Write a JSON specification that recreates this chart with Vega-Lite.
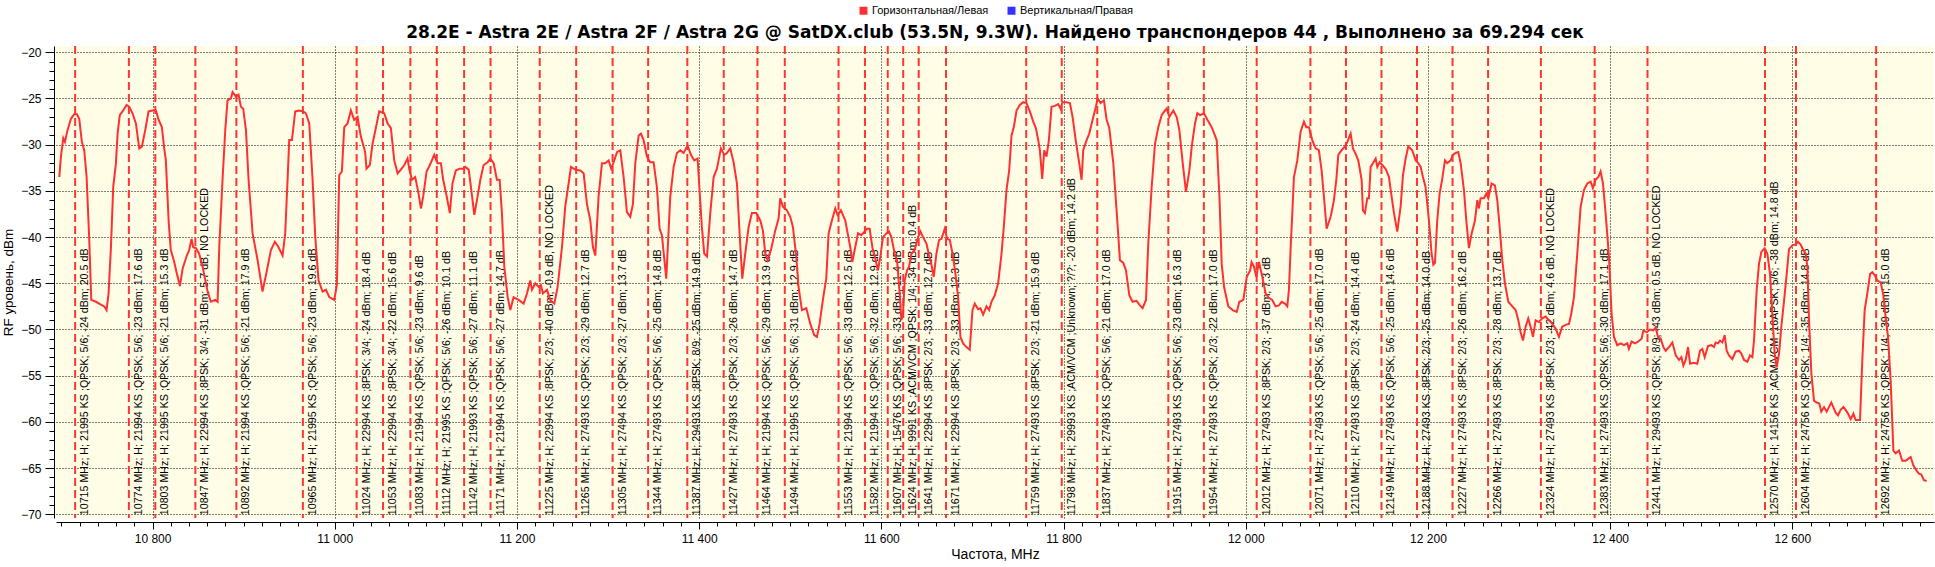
{
  "$schema": "https://vega.github.io/schema/vega-lite/v6.json",
  "width": 1878,
  "height": 472,
  "autosize": {"type": "none"},
  "padding": {"left": 56, "top": 46, "right": 1, "bottom": 49},
  "background": "white",
  "title": {
    "text": "28.2E - Astra 2E / Astra 2F / Astra 2G @ SatDX.club (53.5N, 9.3W). Найдено транспондеров 44 , Выполнено за 69.294 сек",
    "anchor": "middle",
    "frame": "group",
    "font": "DejaVu Sans",
    "fontSize": 17,
    "fontWeight": "bold",
    "color": "black",
    "baseline": "alphabetic",
    "offset": 7,
    "dy": 57
  },
  "config": {
    "view": {"fill": "#fffde6", "stroke": null},
    "font": "Liberation Sans"
  },
  "datasets": {
    "tp": [
      {"f": 10715, "label": "10715 MHz; H; 21995 KS ;QPSK; 5/6; -24 dBm; 20.5 dB"},
      {"f": 10774, "label": "10774 MHz; H; 21994 KS ;QPSK; 5/6; -23 dBm; 17.6 dB"},
      {"f": 10803, "label": "10803 MHz; H; 21995 KS ;QPSK; 5/6; -21 dBm; 15.3 dB"},
      {"f": 10847, "label": "10847 MHz; H; 22994 KS ;8PSK; 3/4; -31 dBm; 5.7 dB, NO LOCKED"},
      {"f": 10892, "label": "10892 MHz; H; 21994 KS ;QPSK; 5/6; -21 dBm; 17.9 dB"},
      {"f": 10965, "label": "10965 MHz; H; 21995 KS ;QPSK; 5/6; -23 dBm; 19.6 dB"},
      {"f": 11024, "label": "11024 MHz; H; 22994 KS ;8PSK; 3/4; -24 dBm; 18.4 dB"},
      {"f": 11053, "label": "11053 MHz; H; 22994 KS ;8PSK; 3/4; -22 dBm; 15.6 dB"},
      {"f": 11083, "label": "11083 MHz; H; 21994 KS ;QPSK; 5/6; -23 dBm; 9.6 dB"},
      {"f": 11112, "label": "11112 MHz; H; 21995 KS ;QPSK; 5/6; -26 dBm; 10.1 dB"},
      {"f": 11142, "label": "11142 MHz; H; 21993 KS ;QPSK; 5/6; -27 dBm; 11.1 dB"},
      {"f": 11171, "label": "11171 MHz; H; 21994 KS ;QPSK; 5/6; -27 dBm; 14.7 dB"},
      {"f": 11225, "label": "11225 MHz; H; 22994 KS ;8PSK; 2/3; -40 dBm; -0.9 dB, NO LOCKED"},
      {"f": 11265, "label": "11265 MHz; H; 27493 KS ;QPSK; 2/3; -29 dBm; 12.7 dB"},
      {"f": 11305, "label": "11305 MHz; H; 27494 KS ;QPSK; 2/3; -27 dBm; 13.7 dB"},
      {"f": 11344, "label": "11344 MHz; H; 27493 KS ;QPSK; 5/6; -25 dBm; 14.8 dB"},
      {"f": 11387, "label": "11387 MHz; H; 29493 KS ;8PSK; 8/9; -25 dBm; 14.9 dB"},
      {"f": 11427, "label": "11427 MHz; H; 27493 KS ;QPSK; 2/3; -26 dBm; 14.7 dB"},
      {"f": 11464, "label": "11464 MHz; H; 21994 KS ;QPSK; 5/6; -29 dBm; 13.9 dB"},
      {"f": 11494, "label": "11494 MHz; H; 21995 KS ;QPSK; 5/6; -31 dBm; 12.9 dB"},
      {"f": 11553, "label": "11553 MHz; H; 21994 KS ;QPSK; 5/6; -33 dBm; 12.5 dB"},
      {"f": 11582, "label": "11582 MHz; H; 21994 KS ;QPSK; 5/6; -32 dBm; 12.9 dB"},
      {"f": 11607, "label": "11607 MHz; H; 15476 KS ;QPSK; 5/6; -33 dBm; 11.4 dB"},
      {"f": 11624, "label": "11624 MHz; H; 9991 KS ;ACM/VCM ;QPSK; 1/4; -34 dBm; 0.4 dB"},
      {"f": 11641, "label": "11641 MHz; H; 22994 KS ;8PSK; 2/3; -33 dBm; 12.7 dB"},
      {"f": 11671, "label": "11671 MHz; H; 22994 KS ;8PSK; 2/3; -33 dBm; 12.3 dB"},
      {"f": 11759, "label": "11759 MHz; H; 27493 KS ;8PSK; 2/3; -21 dBm; 15.9 dB"},
      {"f": 11798, "label": "11798 MHz; H; 29993 KS ;ACM/VCM ;Unknown; ?/?; -20 dBm; 14.2 dB"},
      {"f": 11837, "label": "11837 MHz; H; 27493 KS ;QPSK; 5/6; -21 dBm; 17.0 dB"},
      {"f": 11915, "label": "11915 MHz; H; 27493 KS ;QPSK; 5/6; -23 dBm; 16.3 dB"},
      {"f": 11954, "label": "11954 MHz; H; 27493 KS ;QPSK; 2/3; -22 dBm; 17.0 dB"},
      {"f": 12012, "label": "12012 MHz; H; 27493 KS ;8PSK; 2/3; -37 dBm; 7.3 dB"},
      {"f": 12071, "label": "12071 MHz; H; 27493 KS ;QPSK; 5/6; -25 dBm; 17.0 dB"},
      {"f": 12110, "label": "12110 MHz; H; 27493 KS ;8PSK; 2/3; -24 dBm; 14.4 dB"},
      {"f": 12149, "label": "12149 MHz; H; 27493 KS ;QPSK; 5/6; -25 dBm; 14.6 dB"},
      {"f": 12188, "label": "12188 MHz; H; 27493 KS ;8PSK; 2/3; -25 dBm; 14.0 dB"},
      {"f": 12227, "label": "12227 MHz; H; 27493 KS ;8PSK; 2/3; -26 dBm; 16.2 dB"},
      {"f": 12266, "label": "12266 MHz; H; 27493 KS ;8PSK; 2/3; -28 dBm; 13.7 dB"},
      {"f": 12324, "label": "12324 MHz; H; 27493 KS ;8PSK; 2/3; -42 dBm; 4.6 dB, NO LOCKED"},
      {"f": 12383, "label": "12383 MHz; H; 27493 KS ;QPSK; 5/6; -30 dBm; 17.1 dB"},
      {"f": 12441, "label": "12441 MHz; H; 29493 KS ;QPSK; 8/9; -43 dBm; 0.5 dB, NO LOCKED"},
      {"f": 12570, "label": "12570 MHz; H; 14156 KS ;ACM/VCM ;16APSK; 5/6; -38 dBm; 14.8 dB"},
      {"f": 12604, "label": "12604 MHz; H; 24756 KS ;QPSK; 1/4; -35 dBm; 14.8 dB"},
      {"f": 12692, "label": "12692 MHz; H; 24756 KS ;QPSK; 1/4; -39 dBm; 15.0 dB"}
    ],
    "spec": [
      {"f": 10697.6, "db": -33.5}, {"f": 10699.4, "db": -31.3}, {"f": 10702, "db": -29.3}, {"f": 10703.8, "db": -29.7},
      {"f": 10706.7, "db": -28.4}, {"f": 10710.4, "db": -27.2}, {"f": 10714, "db": -26.7}, {"f": 10717, "db": -26.7},
      {"f": 10719.5, "db": -27.2}, {"f": 10722.4, "db": -29.7}, {"f": 10725, "db": -30.6}, {"f": 10727.6, "db": -33.5},
      {"f": 10730.5, "db": -40.3}, {"f": 10732.7, "db": -46.8}, {"f": 10737.8, "db": -47.0}, {"f": 10743.3, "db": -47.3},
      {"f": 10747, "db": -47.5}, {"f": 10749.5, "db": -47.9}, {"f": 10751.7, "db": -46.1}, {"f": 10754.3, "db": -41.1},
      {"f": 10756.8, "db": -34.6}, {"f": 10759.8, "db": -32.0}, {"f": 10761.6, "db": -28.8}, {"f": 10764, "db": -26.8},
      {"f": 10767, "db": -26.4}, {"f": 10771.5, "db": -25.7}, {"f": 10774.4, "db": -25.9}, {"f": 10778, "db": -26.6},
      {"f": 10781.7, "db": -27.7}, {"f": 10785.4, "db": -30.4}, {"f": 10788.3, "db": -30.2}, {"f": 10792, "db": -28.4},
      {"f": 10795.6, "db": -26.4}, {"f": 10800, "db": -26.3}, {"f": 10803.7, "db": -26.3}, {"f": 10806.6, "db": -27.3},
      {"f": 10810.2, "db": -28.1}, {"f": 10812.8, "db": -30.4}, {"f": 10814.6, "db": -31.7}, {"f": 10817.6, "db": -38.2},
      {"f": 10820, "db": -41.4}, {"f": 10823.8, "db": -42.7}, {"f": 10826.3, "db": -43.8}, {"f": 10830, "db": -45.3},
      {"f": 10833, "db": -43.4}, {"f": 10837.3, "db": -42.1}, {"f": 10840.2, "db": -41.4}, {"f": 10842.8, "db": -40.2},
      {"f": 10844.6, "db": -41.1}, {"f": 10847.6, "db": -41.2}, {"f": 10851.2, "db": -41.8}, {"f": 10854.9, "db": -43.2},
      {"f": 10860.4, "db": -45.9}, {"f": 10864, "db": -47.0}, {"f": 10868.8, "db": -46.8}, {"f": 10871.4, "db": -47.0},
      {"f": 10873.2, "db": -41.1}, {"f": 10876.8, "db": -33.8}, {"f": 10879.8, "db": -28.4}, {"f": 10882.3, "db": -25.2},
      {"f": 10886, "db": -25.0}, {"f": 10887.8, "db": -24.3}, {"f": 10891.5, "db": -24.8}, {"f": 10894.4, "db": -24.6},
      {"f": 10897, "db": -25.9}, {"f": 10899.5, "db": -26.1}, {"f": 10902.5, "db": -28.4}, {"f": 10905.4, "db": -33.8},
      {"f": 10909.8, "db": -39.6}, {"f": 10915.3, "db": -42.5}, {"f": 10920.7, "db": -45.9}, {"f": 10925.1, "db": -43.8},
      {"f": 10929.9, "db": -41.4}, {"f": 10934.3, "db": -40.5}, {"f": 10938.3, "db": -41.1}, {"f": 10942.7, "db": -42.0},
      {"f": 10945.6, "db": -39.6}, {"f": 10948.2, "db": -33.8}, {"f": 10950, "db": -29.5}, {"f": 10953, "db": -29.5},
      {"f": 10956.6, "db": -26.4}, {"f": 10961, "db": -26.3}, {"f": 10965.4, "db": -26.4}, {"f": 10968.3, "db": -26.6},
      {"f": 10972, "db": -27.7}, {"f": 10975.6, "db": -33.7}, {"f": 10978.6, "db": -40.0}, {"f": 10982.2, "db": -44.7},
      {"f": 10986.6, "db": -45.9}, {"f": 10990.3, "db": -45.7}, {"f": 10994, "db": -46.5}, {"f": 10999.4, "db": -46.8},
      {"f": 11002.3, "db": -45.2}, {"f": 11004.9, "db": -33.3}, {"f": 11007.8, "db": -32.9}, {"f": 11010.4, "db": -28.1},
      {"f": 11014, "db": -27.7}, {"f": 11017.7, "db": -26.3}, {"f": 11021.3, "db": -27.3}, {"f": 11025, "db": -27.0},
      {"f": 11028.6, "db": -29.1}, {"f": 11033.4, "db": -30.8}, {"f": 11034.8, "db": -32.6}, {"f": 11038.5, "db": -32.2},
      {"f": 11041.5, "db": -29.9}, {"f": 11045.1, "db": -28.2}, {"f": 11048.8, "db": -26.4}, {"f": 11054.3, "db": -26.6},
      {"f": 11058, "db": -27.7}, {"f": 11061.6, "db": -28.2}, {"f": 11065.3, "db": -31.7}, {"f": 11069, "db": -33.1},
      {"f": 11072.6, "db": -32.7}, {"f": 11076.3, "db": -32.2}, {"f": 11079.9, "db": -31.5}, {"f": 11081.7, "db": -32.6},
      {"f": 11084.7, "db": -33.8}, {"f": 11088.3, "db": -33.5}, {"f": 11092, "db": -35.3}, {"f": 11094.6, "db": -36.9},
      {"f": 11097.1, "db": -35.6}, {"f": 11100.8, "db": -32.9}, {"f": 11104.4, "db": -32.2}, {"f": 11109.2, "db": -31.1},
      {"f": 11112.8, "db": -32.0}, {"f": 11116.5, "db": -32.0}, {"f": 11119, "db": -33.8}, {"f": 11122.7, "db": -35.5},
      {"f": 11126.3, "db": -37.4}, {"f": 11129.2, "db": -34.2}, {"f": 11132.9, "db": -32.8}, {"f": 11137, "db": -32.6},
      {"f": 11140.7, "db": -32.6}, {"f": 11143.3, "db": -32.4}, {"f": 11147, "db": -32.7}, {"f": 11149.5, "db": -34.6},
      {"f": 11153.2, "db": -37.6}, {"f": 11156.1, "db": -36.0}, {"f": 11159.8, "db": -33.8}, {"f": 11163.4, "db": -32.2},
      {"f": 11167.8, "db": -31.9}, {"f": 11170.7, "db": -31.5}, {"f": 11174.4, "db": -32.0}, {"f": 11178, "db": -33.8},
      {"f": 11181, "db": -33.8}, {"f": 11183.5, "db": -37.4}, {"f": 11186.1, "db": -43.2}, {"f": 11189.8, "db": -46.5},
      {"f": 11192.7, "db": -47.9}, {"f": 11196.3, "db": -46.5}, {"f": 11201.8, "db": -46.8}, {"f": 11207.3, "db": -47.2},
      {"f": 11211, "db": -46.1}, {"f": 11214.6, "db": -44.7}, {"f": 11216.5, "db": -45.7}, {"f": 11220.1, "db": -45.0},
      {"f": 11223.8, "db": -45.4}, {"f": 11226.3, "db": -45.2}, {"f": 11228.5, "db": -46.1}, {"f": 11233, "db": -45.7},
      {"f": 11236.6, "db": -46.8}, {"f": 11241, "db": -47.2}, {"f": 11244.6, "db": -45.4}, {"f": 11249.4, "db": -41.1},
      {"f": 11253, "db": -36.7}, {"f": 11256.7, "db": -34.2}, {"f": 11259.3, "db": -32.4}, {"f": 11264, "db": -32.7},
      {"f": 11269.5, "db": -32.8}, {"f": 11273.2, "db": -33.1}, {"f": 11276.8, "db": -36.4}, {"f": 11280.5, "db": -38.2},
      {"f": 11283.4, "db": -41.1}, {"f": 11286, "db": -42.0}, {"f": 11289.6, "db": -35.6}, {"f": 11293.3, "db": -32.0},
      {"f": 11296.9, "db": -32.0}, {"f": 11300.6, "db": -31.7}, {"f": 11303.5, "db": -32.6}, {"f": 11306.1, "db": -31.9},
      {"f": 11309.8, "db": -30.8}, {"f": 11313.4, "db": -30.6}, {"f": 11317.1, "db": -33.5}, {"f": 11320.7, "db": -37.3},
      {"f": 11324.4, "db": -37.8}, {"f": 11327.3, "db": -36.4}, {"f": 11329.9, "db": -32.0}, {"f": 11333.6, "db": -29.0},
      {"f": 11336.1, "db": -28.8}, {"f": 11339, "db": -29.5}, {"f": 11342.7, "db": -31.3}, {"f": 11346.3, "db": -31.9},
      {"f": 11350, "db": -31.9}, {"f": 11353.6, "db": -34.6}, {"f": 11356.6, "db": -39.1}, {"f": 11359.1, "db": -39.8},
      {"f": 11363.9, "db": -44.5}, {"f": 11368.3, "db": -35.6}, {"f": 11372, "db": -32.4}, {"f": 11375.6, "db": -30.9},
      {"f": 11379.3, "db": -30.6}, {"f": 11382.9, "db": -30.9}, {"f": 11387.3, "db": -30.1}, {"f": 11391, "db": -31.1},
      {"f": 11394.6, "db": -31.7}, {"f": 11398.3, "db": -31.5}, {"f": 11400.4, "db": -34.9}, {"f": 11403, "db": -38.9},
      {"f": 11405.6, "db": -41.8}, {"f": 11408.6, "db": -42.1}, {"f": 11412.2, "db": -37.4}, {"f": 11415.9, "db": -33.5},
      {"f": 11419.5, "db": -32.6}, {"f": 11423.9, "db": -30.4}, {"f": 11427.6, "db": -31.1}, {"f": 11430.5, "db": -30.9},
      {"f": 11434.1, "db": -30.4}, {"f": 11437.8, "db": -31.9}, {"f": 11441.5, "db": -34.2}, {"f": 11444.4, "db": -39.6},
      {"f": 11447.3, "db": -44.5}, {"f": 11450.6, "db": -41.8}, {"f": 11454.3, "db": -38.9}, {"f": 11457.9, "db": -37.4},
      {"f": 11462.7, "db": -37.4}, {"f": 11467.1, "db": -38.2}, {"f": 11470, "db": -39.3}, {"f": 11472.6, "db": -41.8},
      {"f": 11475.1, "db": -42.5}, {"f": 11478.8, "db": -41.4}, {"f": 11483.5, "db": -39.3}, {"f": 11487.2, "db": -38.0},
      {"f": 11489, "db": -35.8}, {"f": 11491.9, "db": -36.7}, {"f": 11496.3, "db": -37.1}, {"f": 11500, "db": -37.8},
      {"f": 11502.9, "db": -38.9}, {"f": 11506.6, "db": -42.1}, {"f": 11509.1, "db": -45.4}, {"f": 11512.8, "db": -47.9},
      {"f": 11517.6, "db": -47.7}, {"f": 11522, "db": -49.4}, {"f": 11526.3, "db": -50.6}, {"f": 11529.3, "db": -50.8},
      {"f": 11532.2, "db": -49.4}, {"f": 11535.8, "db": -46.8}, {"f": 11539.5, "db": -44.5}, {"f": 11542.1, "db": -39.6},
      {"f": 11545.7, "db": -38.2}, {"f": 11549.4, "db": -36.9}, {"f": 11551.9, "db": -37.6}, {"f": 11555.6, "db": -37.1},
      {"f": 11560.4, "db": -38.2}, {"f": 11565.9, "db": -41.1}, {"f": 11568.1, "db": -42.7}, {"f": 11570.7, "db": -41.4},
      {"f": 11574.4, "db": -39.6}, {"f": 11578, "db": -39.8}, {"f": 11581.7, "db": -39.4}, {"f": 11584.2, "db": -39.1},
      {"f": 11587.2, "db": -39.1}, {"f": 11590.1, "db": -41.1}, {"f": 11593.8, "db": -42.5}, {"f": 11596.3, "db": -43.6},
      {"f": 11598.9, "db": -42.1}, {"f": 11601.8, "db": -40.0}, {"f": 11605.5, "db": -39.6}, {"f": 11608.4, "db": -39.4},
      {"f": 11611, "db": -40.0}, {"f": 11614.7, "db": -41.8}, {"f": 11617.2, "db": -42.5}, {"f": 11620.1, "db": -46.1},
      {"f": 11622, "db": -49.0}, {"f": 11623.8, "db": -48.3}, {"f": 11625.6, "db": -44.7}, {"f": 11628.2, "db": -43.6},
      {"f": 11630.4, "db": -43.2}, {"f": 11633, "db": -41.8}, {"f": 11636.6, "db": -41.4}, {"f": 11640.3, "db": -40.0},
      {"f": 11642.9, "db": -39.4}, {"f": 11645.8, "db": -40.0}, {"f": 11649.5, "db": -40.7}, {"f": 11652.4, "db": -42.0},
      {"f": 11655, "db": -43.0}, {"f": 11657.5, "db": -44.3}, {"f": 11660.4, "db": -41.8}, {"f": 11663.4, "db": -40.3},
      {"f": 11665.9, "db": -40.2}, {"f": 11669.6, "db": -39.1}, {"f": 11672.2, "db": -40.2}, {"f": 11675.1, "db": -40.3},
      {"f": 11678.8, "db": -42.1}, {"f": 11681.7, "db": -44.3}, {"f": 11684.2, "db": -46.5}, {"f": 11686.8, "db": -50.8},
      {"f": 11689.7, "db": -51.5}, {"f": 11693.4, "db": -51.9}, {"f": 11697, "db": -52.2}, {"f": 11700, "db": -47.9},
      {"f": 11702.6, "db": -47.2}, {"f": 11706.2, "db": -47.8}, {"f": 11708.8, "db": -47.7}, {"f": 11711.7, "db": -48.4},
      {"f": 11715.4, "db": -47.5}, {"f": 11718.3, "db": -47.9}, {"f": 11720.9, "db": -47.0}, {"f": 11724.5, "db": -46.3},
      {"f": 11728.2, "db": -45.0}, {"f": 11731.9, "db": -41.8}, {"f": 11734.4, "db": -38.9}, {"f": 11737.4, "db": -34.9},
      {"f": 11740.3, "db": -32.8}, {"f": 11742.9, "db": -29.0}, {"f": 11745.4, "db": -28.1}, {"f": 11748.4, "db": -26.3},
      {"f": 11752, "db": -25.7}, {"f": 11755.7, "db": -25.4}, {"f": 11759.3, "db": -25.5}, {"f": 11763, "db": -26.4},
      {"f": 11766.7, "db": -27.5}, {"f": 11769.6, "db": -28.2}, {"f": 11772.2, "db": -29.5}, {"f": 11774, "db": -30.6},
      {"f": 11776.6, "db": -33.7}, {"f": 11778.8, "db": -30.6}, {"f": 11781.3, "db": -31.3}, {"f": 11783.9, "db": -29.5},
      {"f": 11786.8, "db": -25.9}, {"f": 11790.5, "db": -25.8}, {"f": 11794.1, "db": -25.6}, {"f": 11796.7, "db": -26.1},
      {"f": 11798.9, "db": -25.4}, {"f": 11803.3, "db": -25.4}, {"f": 11807, "db": -25.5}, {"f": 11809.9, "db": -27.0},
      {"f": 11813.6, "db": -29.7}, {"f": 11817.2, "db": -32.0}, {"f": 11819.8, "db": -33.8}, {"f": 11821.6, "db": -30.6},
      {"f": 11825.3, "db": -29.5}, {"f": 11828.2, "db": -28.8}, {"f": 11831.9, "db": -27.3}, {"f": 11835.5, "db": -25.9},
      {"f": 11837.4, "db": -25.0}, {"f": 11840.7, "db": -25.5}, {"f": 11844.3, "db": -25.2}, {"f": 11847.3, "db": -27.3},
      {"f": 11850.2, "db": -28.2}, {"f": 11854.6, "db": -32.0}, {"f": 11858.2, "db": -37.1}, {"f": 11861.9, "db": -42.5},
      {"f": 11865.6, "db": -42.8}, {"f": 11868.5, "db": -43.6}, {"f": 11872.2, "db": -46.3}, {"f": 11875.8, "db": -47.0},
      {"f": 11880.2, "db": -46.9}, {"f": 11883.9, "db": -47.4}, {"f": 11886.8, "db": -47.7}, {"f": 11890.5, "db": -46.8},
      {"f": 11893, "db": -40.7}, {"f": 11896.7, "db": -34.6}, {"f": 11900.4, "db": -29.9}, {"f": 11904, "db": -28.1},
      {"f": 11907.7, "db": -26.8}, {"f": 11911.4, "db": -26.3}, {"f": 11913.2, "db": -26.1}, {"f": 11916.1, "db": -27.0},
      {"f": 11920.5, "db": -26.3}, {"f": 11924.2, "db": -27.0}, {"f": 11927.1, "db": -28.4}, {"f": 11930.8, "db": -32.0},
      {"f": 11934.4, "db": -35.1}, {"f": 11938.1, "db": -32.8}, {"f": 11940.7, "db": -30.2}, {"f": 11944.3, "db": -27.7},
      {"f": 11946.9, "db": -26.6}, {"f": 11949.8, "db": -26.8}, {"f": 11954.2, "db": -26.6}, {"f": 11957.9, "db": -27.3},
      {"f": 11962.6, "db": -28.1}, {"f": 11968.1, "db": -29.5}, {"f": 11971.1, "db": -35.6}, {"f": 11973.6, "db": -42.9},
      {"f": 11976.2, "db": -45.4}, {"f": 11980.9, "db": -47.5}, {"f": 11985.7, "db": -47.9}, {"f": 11990.1, "db": -48.1},
      {"f": 11993, "db": -47.0}, {"f": 11997.4, "db": -46.8}, {"f": 12001.1, "db": -44.3}, {"f": 12004.8, "db": -43.6},
      {"f": 12006.4, "db": -42.7}, {"f": 12009, "db": -43.2}, {"f": 12011.6, "db": -44.3}, {"f": 12014.5, "db": -42.7},
      {"f": 12018.2, "db": -44.3}, {"f": 12021.8, "db": -46.1}, {"f": 12025.5, "db": -46.6}, {"f": 12029.1, "db": -46.8},
      {"f": 12032.8, "db": -47.5}, {"f": 12036.4, "db": -47.4}, {"f": 12039.4, "db": -47.0}, {"f": 12043, "db": -47.2},
      {"f": 12045.6, "db": -47.5}, {"f": 12047.4, "db": -45.7}, {"f": 12049.3, "db": -41.1}, {"f": 12051.1, "db": -37.4},
      {"f": 12052.9, "db": -33.5}, {"f": 12056.6, "db": -31.7}, {"f": 12060.2, "db": -28.6}, {"f": 12063.9, "db": -27.5},
      {"f": 12066.4, "db": -28.1}, {"f": 12069.4, "db": -28.1}, {"f": 12073, "db": -29.5}, {"f": 12076.7, "db": -30.4},
      {"f": 12080.3, "db": -30.6}, {"f": 12083.3, "db": -32.8}, {"f": 12085.8, "db": -35.6}, {"f": 12088.8, "db": -39.1},
      {"f": 12093.2, "db": -37.8}, {"f": 12096.8, "db": -36.0}, {"f": 12099.4, "db": -33.8}, {"f": 12101.6, "db": -31.1},
      {"f": 12105.2, "db": -30.6}, {"f": 12108.9, "db": -30.2}, {"f": 12111.5, "db": -29.7}, {"f": 12115.1, "db": -28.8},
      {"f": 12117.7, "db": -30.4}, {"f": 12120.6, "db": -31.0}, {"f": 12123.5, "db": -31.7}, {"f": 12127.2, "db": -33.8},
      {"f": 12128.6, "db": -37.1}, {"f": 12130.8, "db": -37.4}, {"f": 12133.4, "db": -35.8}, {"f": 12135.2, "db": -35.8},
      {"f": 12137.1, "db": -32.4}, {"f": 12139.6, "db": -32.0}, {"f": 12142.6, "db": -31.5}, {"f": 12144.4, "db": -32.4},
      {"f": 12146.9, "db": -31.9}, {"f": 12149.9, "db": -32.2}, {"f": 12153.5, "db": -32.6}, {"f": 12157.2, "db": -33.5},
      {"f": 12160.1, "db": -35.6}, {"f": 12162.7, "db": -37.4}, {"f": 12166.3, "db": -39.4}, {"f": 12170, "db": -36.7},
      {"f": 12172.6, "db": -33.3}, {"f": 12175.5, "db": -31.5}, {"f": 12178.4, "db": -30.2}, {"f": 12182.8, "db": -30.6},
      {"f": 12186.5, "db": -31.7}, {"f": 12189.4, "db": -32.0}, {"f": 12192, "db": -32.4}, {"f": 12194.5, "db": -33.5},
      {"f": 12197.4, "db": -34.6}, {"f": 12201.1, "db": -38.2}, {"f": 12204, "db": -41.8}, {"f": 12205.9, "db": -43.0},
      {"f": 12207.7, "db": -42.8}, {"f": 12210.2, "db": -38.2}, {"f": 12212.8, "db": -35.3}, {"f": 12215.7, "db": -33.7},
      {"f": 12218.7, "db": -31.7}, {"f": 12221.2, "db": -32.0}, {"f": 12224.9, "db": -31.7}, {"f": 12227.4, "db": -31.1},
      {"f": 12230.4, "db": -30.9}, {"f": 12233.3, "db": -30.8}, {"f": 12235.9, "db": -32.0}, {"f": 12239.5, "db": -34.9},
      {"f": 12242.1, "db": -38.2}, {"f": 12245, "db": -41.2}, {"f": 12248, "db": -39.6}, {"f": 12251.6, "db": -38.2},
      {"f": 12254.2, "db": -36.0}, {"f": 12256, "db": -36.9}, {"f": 12257.8, "db": -35.8}, {"f": 12261.5, "db": -35.8},
      {"f": 12264, "db": -35.3}, {"f": 12266.2, "db": -35.8}, {"f": 12269.9, "db": -34.2}, {"f": 12273.5, "db": -34.4},
      {"f": 12276.1, "db": -36.0}, {"f": 12278.7, "db": -38.9}, {"f": 12281.6, "db": -42.5}, {"f": 12284.5, "db": -45.0},
      {"f": 12288.2, "db": -47.0}, {"f": 12292.6, "db": -47.5}, {"f": 12296.2, "db": -47.9}, {"f": 12299.2, "db": -49.0},
      {"f": 12301.7, "db": -50.3}, {"f": 12304.3, "db": -51.2}, {"f": 12307.2, "db": -49.7}, {"f": 12310.1, "db": -48.8},
      {"f": 12312.7, "db": -49.7}, {"f": 12315.3, "db": -50.8}, {"f": 12318.2, "db": -49.0}, {"f": 12321.8, "db": -49.2},
      {"f": 12325.5, "db": -48.8}, {"f": 12329.2, "db": -48.6}, {"f": 12332.8, "db": -49.0}, {"f": 12336.5, "db": -49.4},
      {"f": 12340.1, "db": -49.9}, {"f": 12343.8, "db": -50.8}, {"f": 12347.4, "db": -49.7}, {"f": 12351.1, "db": -49.5},
      {"f": 12354.8, "db": -49.4}, {"f": 12357.3, "db": -48.3}, {"f": 12360.3, "db": -46.5}, {"f": 12363.9, "db": -41.8},
      {"f": 12367.6, "db": -36.7}, {"f": 12371.2, "db": -34.9}, {"f": 12374.9, "db": -34.2}, {"f": 12378.6, "db": -34.0},
      {"f": 12381.1, "db": -34.7}, {"f": 12384, "db": -33.8}, {"f": 12387, "db": -33.5}, {"f": 12389.5, "db": -32.9},
      {"f": 12392.1, "db": -34.2}, {"f": 12395, "db": -37.4}, {"f": 12398.7, "db": -42.1}, {"f": 12401.6, "db": -48.3},
      {"f": 12404.2, "db": -50.8}, {"f": 12407.8, "db": -51.7}, {"f": 12411.5, "db": -51.5}, {"f": 12415.2, "db": -51.7},
      {"f": 12418.8, "db": -51.5}, {"f": 12420.6, "db": -52.1}, {"f": 12423.6, "db": -51.3}, {"f": 12427.2, "db": -51.5},
      {"f": 12430.9, "db": -51.3}, {"f": 12434.5, "db": -51.0}, {"f": 12436.5, "db": -50.1}, {"f": 12440.1, "db": -50.3},
      {"f": 12443.8, "db": -50.0}, {"f": 12447.4, "db": -50.1}, {"f": 12450, "db": -49.8}, {"f": 12452.5, "db": -50.8},
      {"f": 12455.5, "db": -51.0}, {"f": 12458.4, "db": -51.9}, {"f": 12461, "db": -52.3}, {"f": 12464.6, "db": -51.9},
      {"f": 12468.3, "db": -51.4}, {"f": 12472, "db": -52.8}, {"f": 12475.6, "db": -53.3}, {"f": 12478.2, "db": -53.0},
      {"f": 12480.4, "db": -53.9}, {"f": 12482.9, "db": -53.3}, {"f": 12485.5, "db": -51.9}, {"f": 12487.7, "db": -53.7},
      {"f": 12491.3, "db": -53.6}, {"f": 12495.7, "db": -53.7}, {"f": 12498.6, "db": -52.3}, {"f": 12501.2, "db": -52.1},
      {"f": 12503.8, "db": -53.0}, {"f": 12507.4, "db": -51.8}, {"f": 12511.1, "db": -51.7}, {"f": 12514, "db": -51.9},
      {"f": 12515.8, "db": -51.4}, {"f": 12518.4, "db": -51.5}, {"f": 12520.6, "db": -51.2}, {"f": 12523.2, "db": -51.4},
      {"f": 12525.7, "db": -50.6}, {"f": 12527.9, "db": -52.3}, {"f": 12530.5, "db": -52.8}, {"f": 12534.1, "db": -53.2},
      {"f": 12537.8, "db": -52.4}, {"f": 12541.5, "db": -52.3}, {"f": 12544, "db": -52.6}, {"f": 12547, "db": -53.3},
      {"f": 12550.6, "db": -53.5}, {"f": 12553.5, "db": -52.8}, {"f": 12556.1, "db": -53.0}, {"f": 12557.9, "db": -51.2},
      {"f": 12560.8, "db": -45.8}, {"f": 12563.4, "db": -42.9}, {"f": 12566, "db": -41.6}, {"f": 12569.6, "db": -41.2},
      {"f": 12572.6, "db": -41.8}, {"f": 12575.5, "db": -44.0}, {"f": 12578, "db": -48.3}, {"f": 12580.6, "db": -52.6},
      {"f": 12582.8, "db": -54.1}, {"f": 12585.4, "db": -52.6}, {"f": 12587.9, "db": -49.7}, {"f": 12590.9, "db": -46.9},
      {"f": 12593.8, "db": -44.0}, {"f": 12596.3, "db": -41.3}, {"f": 12600, "db": -40.9}, {"f": 12603.7, "db": -40.8},
      {"f": 12606.2, "db": -40.5}, {"f": 12609.1, "db": -40.8}, {"f": 12612, "db": -41.4}, {"f": 12614.6, "db": -41.8},
      {"f": 12616.5, "db": -43.2}, {"f": 12618.3, "db": -49.0}, {"f": 12620.9, "db": -54.8}, {"f": 12623.8, "db": -57.7},
      {"f": 12626.7, "db": -57.9}, {"f": 12629.6, "db": -58.0}, {"f": 12631.8, "db": -58.9}, {"f": 12634.8, "db": -58.4},
      {"f": 12637.7, "db": -58.9}, {"f": 12640.2, "db": -58.4}, {"f": 12642.8, "db": -57.9}, {"f": 12645, "db": -58.4},
      {"f": 12647.6, "db": -59.0}, {"f": 12650.1, "db": -59.3}, {"f": 12653, "db": -58.7}, {"f": 12656, "db": -58.4},
      {"f": 12658.5, "db": -58.7}, {"f": 12661.1, "db": -59.1}, {"f": 12664, "db": -59.7}, {"f": 12667, "db": -59.1},
      {"f": 12669.5, "db": -59.8}, {"f": 12672.1, "db": -59.8}, {"f": 12674.3, "db": -59.8}, {"f": 12676.8, "db": -53.3},
      {"f": 12679.4, "db": -47.9}, {"f": 12682.3, "db": -46.1}, {"f": 12685.3, "db": -44.0}, {"f": 12687.8, "db": -43.8},
      {"f": 12690.4, "db": -44.1}, {"f": 12693.3, "db": -44.7}, {"f": 12697, "db": -44.9}, {"f": 12699.9, "db": -46.3},
      {"f": 12702.5, "db": -48.7}, {"f": 12705, "db": -50.8}, {"f": 12707.9, "db": -55.5}, {"f": 12710.9, "db": -63.1},
      {"f": 12713.4, "db": -63.4}, {"f": 12717.1, "db": -63.1}, {"f": 12720.7, "db": -64.2}, {"f": 12724.4, "db": -64.2},
      {"f": 12727, "db": -64.0}, {"f": 12729.9, "db": -63.8}, {"f": 12732.8, "db": -64.7}, {"f": 12736.5, "db": -65.3},
      {"f": 12739, "db": -65.6}, {"f": 12741.6, "db": -65.7}, {"f": 12744.5, "db": -66.3}, {"f": 12747.4, "db": -66.4}
    ]
  },
  "resolve": {"axis": {"x": "independent", "y": "independent"}},
  "layer": [
    {
      "data": {"name": "tp"},
      "mark": {"type": "rule", "color": "#ff3535", "strokeWidth": 2, "strokeDash": [8, 4]},
      "encoding": {
        "x": {
          "field": "f",
          "type": "quantitative",
          "scale": {"domain": [10694, 12755.5], "nice": false, "zero": false},
          "axis": {
            "orient": "bottom",
            "values": [10700, 10720, 10740, 10760, 10780, 10800, 10820, 10840, 10860, 10880, 10900, 10920, 10940, 10960, 10980, 11000, 11020, 11040, 11060, 11080, 11100, 11120, 11140, 11160, 11180, 11200, 11220, 11240, 11260, 11280, 11300, 11320, 11340, 11360, 11380, 11400, 11420, 11440, 11460, 11480, 11500, 11520, 11540, 11560, 11580, 11600, 11620, 11640, 11660, 11680, 11700, 11720, 11740, 11760, 11780, 11800, 11820, 11840, 11860, 11880, 11900, 11920, 11940, 11960, 11980, 12000, 12020, 12040, 12060, 12080, 12100, 12120, 12140, 12160, 12180, 12200, 12220, 12240, 12260, 12280, 12300, 12320, 12340, 12360, 12380, 12400, 12420, 12440, 12460, 12480, 12500, 12520, 12540, 12560, 12580, 12600, 12620, 12640, 12660, 12680, 12700, 12720, 12740],
            "labels": false,
            "grid": false,
            "domain": false,
            "ticks": true,
            "tickSize": 4,
            "tickColor": "black",
            "offset": 4,
            "title": null
          }
        }
      }
    },
    {
      "data": {"name": "tp"},
      "mark": {"type": "text", "angle": 270, "align": "left", "baseline": "top", "dy": 5, "fontSize": 10.7, "font": "Liberation Sans", "color": "black"},
      "encoding": {
        "x": {"field": "f", "type": "quantitative", "scale": {"domain": [10694, 12755.5], "nice": false, "zero": false}, "axis": null},
        "y": {
          "datum": -70.1,
          "type": "quantitative",
          "scale": {"domain": [-70.4, -19.32], "nice": false, "zero": false},
          "axis": {
            "orient": "left",
            "values": [-70, -69, -68, -67, -66, -65, -64, -63, -62, -61, -60, -59, -58, -57, -56, -55, -54, -53, -52, -51, -50, -49, -48, -47, -46, -45, -44, -43, -42, -41, -40, -39, -38, -37, -36, -35, -34, -33, -32, -31, -30, -29, -28, -27, -26, -25, -24, -23, -22, -21, -20],
            "labels": false,
            "grid": false,
            "domain": false,
            "ticks": true,
            "tickSize": 5,
            "tickColor": "black",
            "offset": 2,
            "title": null
          }
        },
        "text": {"field": "label"}
      }
    },
    {
      "data": {"name": "spec"},
      "mark": {"type": "line", "strokeWidth": 2, "interpolate": "linear"},
      "encoding": {
        "x": {
          "field": "f",
          "type": "quantitative",
          "scale": {"domain": [10694, 12755.5], "nice": false, "zero": false},
          "axis": {
            "orient": "bottom",
            "values": [10800, 11000, 11200, 11400, 11600, 11800, 12000, 12200, 12400, 12600],
            "labelExpr": "replace(format(datum.value, ','), ',', ' ')",
            "grid": true,
            "gridColor": "black",
            "gridDash": [1, 2],
            "gridOpacity": 1,
            "gridWidth": 1,
            "domainColor": "black",
            "tickColor": "black",
            "tickSize": 7,
            "offset": 4,
            "labelFontSize": 12,
            "labelFont": "Liberation Sans",
            "labelColor": "black",
            "labelPadding": 4,
            "title": "Частота, MHz",
            "titleFont": "Liberation Sans",
            "titleFontSize": 14,
            "titleFontWeight": "normal",
            "titleColor": "black",
            "titlePadding": 3
          }
        },
        "y": {
          "field": "db",
          "type": "quantitative",
          "scale": {"domain": [-70.4, -19.32], "nice": false, "zero": false},
          "axis": {
            "orient": "left",
            "values": [-70, -65, -60, -55, -50, -45, -40, -35, -30, -25, -20],
            "grid": true,
            "gridColor": "black",
            "gridDash": [1, 2],
            "gridOpacity": 1,
            "gridWidth": 1,
            "domainColor": "black",
            "tickColor": "black",
            "tickSize": 9,
            "offset": 2,
            "labelFontSize": 12,
            "labelFont": "Liberation Sans",
            "labelColor": "black",
            "labelPadding": 4,
            "title": "RF уровень, dBm",
            "titleFont": "Liberation Sans",
            "titleFontSize": 13.5,
            "titleFontWeight": "normal",
            "titleColor": "black",
            "titlePadding": 5
          }
        },
        "color": {
          "datum": "Горизонтальная/Левая",
          "type": "nominal",
          "scale": {"domain": ["Горизонтальная/Левая", "Вертикальная/Правая"], "range": ["#ff3030", "#3333ff"]},
          "legend": {
            "orient": "none",
            "legendX": 802,
            "legendY": -41,
            "direction": "horizontal",
            "title": null,
            "padding": 0,
            "symbolType": "square",
            "symbolSize": 64,
            "symbolStrokeWidth": 0,
            "labelFont": "Liberation Sans",
            "labelFontSize": 11,
            "labelColor": "black",
            "labelOffset": 3,
            "columnPadding": 17,
            "encode": {
              "symbols": {"update": {"fill": {"scale": "color", "field": "value"}, "stroke": {"value": "transparent"}}}
            }
          }
        }
      }
    }
  ]
}
